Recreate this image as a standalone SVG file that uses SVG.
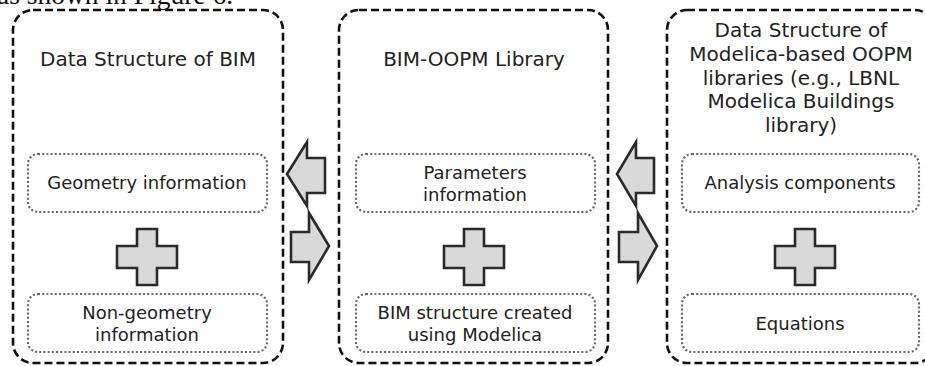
<svg xmlns="http://www.w3.org/2000/svg" width="925" height="366" viewBox="0 0 925 366">
<style>
.outer{fill:none;stroke:#111;stroke-width:2.6;stroke-dasharray:8 4}
.inner{fill:none;stroke:#666;stroke-width:2.2;stroke-dasharray:2 2.2}
.shape{fill:#d9d9d9;stroke:#2a2a2a;stroke-width:2.6;stroke-linejoin:miter}
.t{font-family:"DejaVu Sans",Verdana,sans-serif;font-size:18px;fill:#222;text-anchor:middle}
.title{font-size:20px}
.cap{font-family:"Liberation Serif","Times New Roman",serif;font-size:27.5px;fill:#111}
</style>
<defs>
<path id="plus" d="M-10,-28 H10 V-11 H30 V11 H10 V28 H-10 V11 H-30 V-11 H-10 Z"/>
</defs>
<rect width="925" height="366" fill="#fff"/>
<text class="cap" x="-3" y="4">as shown in Figure 6.</text>

<g id="node-bim">
<rect class="outer" x="13" y="10" width="270" height="353" rx="20"/>
<text class="t title" x="148" y="66">Data Structure of BIM</text>
<g id="node-geometry">
<rect class="inner" x="28" y="154" width="239" height="58" rx="10"/>
<text class="t" x="147" y="189">Geometry information</text>
</g>
<use class="shape" href="#plus" x="147" y="257"/>
<g id="node-nongeometry">
<rect class="inner" x="28" y="294" width="239" height="58" rx="10"/>
<text class="t" x="147" y="319">Non-geometry</text>
<text class="t" x="147" y="341">information</text>
</g>
</g>

<g id="node-library">
<rect class="outer" x="339" y="10" width="269" height="353" rx="20"/>
<text class="t title" x="474" y="66">BIM-OOPM Library</text>
<g id="node-parameters">
<rect class="inner" x="356" y="154" width="239" height="58" rx="10"/>
<text class="t" x="475" y="179">Parameters</text>
<text class="t" x="475" y="201">information</text>
</g>
<use class="shape" href="#plus" x="474" y="257"/>
<g id="node-structure">
<rect class="inner" x="356" y="294" width="239" height="58" rx="10"/>
<text class="t" x="475" y="319">BIM structure created</text>
<text class="t" x="475" y="341">using Modelica</text>
</g>
</g>

<g id="node-modelica">
<rect class="outer" x="667" y="10" width="268" height="353" rx="20"/>
<text class="t title" x="801" y="37">Data Structure of</text>
<text class="t title" x="801" y="61">Modelica-based OOPM</text>
<text class="t title" x="801" y="85">libraries (e.g., LBNL</text>
<text class="t title" x="801" y="108">Modelica Buildings</text>
<text class="t title" x="801" y="132">library)</text>
<g id="node-analysis">
<rect class="inner" x="682" y="154" width="237" height="58" rx="10"/>
<text class="t" x="800" y="189">Analysis components</text>
</g>
<use class="shape" href="#plus" x="805" y="257"/>
<g id="node-equations">
<rect class="inner" x="682" y="294" width="237" height="58" rx="10"/>
<text class="t" x="800" y="330">Equations</text>
</g>
</g>

<g id="connectors">
<path class="shape" d="M287,174 L307,142 V158 H325 V193 H307 V206 Z"/>
<path class="shape" d="M329,246 L309,213 V232 H291 V262 H309 V280 Z"/>
<path class="shape" d="M617,174 L636,142 V158 H654 V193 H636 V206 Z"/>
<path class="shape" d="M657,246 L638,213 V232 H619 V262 H638 V280 Z"/>
</g>
</svg>
